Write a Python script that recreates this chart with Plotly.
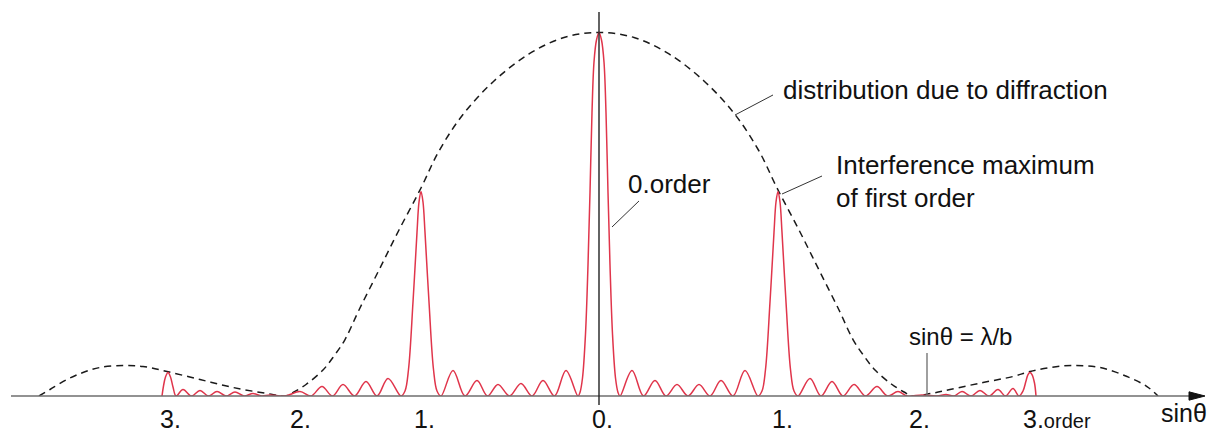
import plotly.graph_objects as go

# sinθ in arbitrary units, intensity in % of the central (0th order) maximum

# single-slit diffraction envelope (dashed)
envelope_x = [-5.60, -5.49, -5.32, -5.16, -4.99, -4.76, -4.56, -4.32, -3.99, -3.66, -3.32, -3.13,
              -3.05, -2.93, -2.76, -2.65, -2.54, -2.40, -2.20, -2.00, -1.78, -1.60, -1.36, -1.05,
              -0.70, -0.35, 0.0,
              0.35, 0.70, 1.05, 1.36, 1.60, 1.78, 2.00, 2.20, 2.40, 2.54, 2.65, 2.76, 2.93, 3.05, 3.13,
              3.32, 3.51, 3.84, 4.14, 4.31, 4.51, 4.74, 5.01, 5.28, 5.48, 5.59]
envelope_y = [0, 1.79, 4.54, 6.46, 7.84, 8.39, 8.12, 6.74, 4.54, 2.34, 0.69, 0,
              1.10, 3.16, 7.15, 11.0, 15.54, 23.66, 34.66, 45.67, 57.22, 67.40, 77.44, 86.66,
              94.09, 98.62, 100,
              98.62, 94.09, 86.66, 77.44, 67.40, 57.22, 45.67, 34.66, 23.66, 15.54, 11.0, 7.15, 3.16, 1.10, 0,
              0.69, 1.79, 3.71, 5.36, 6.74, 7.84, 8.39, 7.84, 5.36, 2.61, 0]

# grating intensity (red): principal maxima with subsidiary maxima in between
pattern_x = [-4.37, -4.355, -4.335, -4.31, -4.285, -4.26, -4.23,
             -4.16, -4.075, -3.99, -3.905, -3.82, -3.73, -3.64, -3.55, -3.46, -3.375, -3.29, -3.14,
             -2.99, -2.88, -2.77, -2.665, -2.56, -2.445, -2.33, -2.22, -2.11,
             -1.98, -1.94, -1.905, -1.86, -1.82, -1.80, -1.78, -1.76, -1.74, -1.70, -1.655, -1.62, -1.58,
             -1.46, -1.34, -1.22, -1.115, -1.01, -0.895, -0.78, -0.67, -0.56, -0.445, -0.33, -0.21,
             -0.19, -0.165, -0.135, -0.11, -0.09, -0.07, -0.05, -0.025, 0.0,
             0.025, 0.05, 0.07, 0.09, 0.11, 0.135, 0.165, 0.19, 0.21,
             0.33, 0.445, 0.56, 0.67, 0.78, 0.89, 1.00, 1.11, 1.22, 1.34, 1.46,
             1.59, 1.63, 1.665, 1.71, 1.75, 1.77, 1.79, 1.81, 1.83, 1.87, 1.915, 1.95, 1.99,
             2.11, 2.22, 2.33, 2.44, 2.55, 2.665, 2.78, 2.885, 2.99, 3.08, 3.23, 3.38, 3.47, 3.55,
             3.63, 3.72, 3.81, 3.90, 3.99, 4.065, 4.14, 4.20,
             4.24, 4.27, 4.29, 4.31, 4.33, 4.355, 4.37]
pattern_y = [0, 2.75, 5.23, 6.46, 5.23, 2.48, 0,
             1.79, 0, 1.51, 0, 1.24, 0, 1.10, 0, 0.69, 0, 0.28, 0,
             1.24, 0, 2.61, 0, 3.16, 0, 3.99, 0, 4.81,
             0, 1.38, 7.29, 25.86, 45.01, 53.37, 56.26, 53.37, 45.01, 25.86, 7.29, 1.38, 0,
             7.02, 0, 4.26, 0, 3.16, 0, 3.44, 0, 4.26, 0, 7.02, 0,
             0.99, 4.95, 17.06, 36.04, 55.98, 77.99, 91.88, 97.94, 100,
             97.94, 91.88, 77.99, 55.98, 36.04, 17.06, 4.95, 0.99, 0,
             7.02, 0, 4.26, 0, 3.16, 0, 3.16, 0, 4.26, 0, 7.02,
             0, 1.38, 7.29, 25.86, 45.01, 53.37, 56.26, 53.37, 45.01, 25.86, 7.29, 1.38, 0,
             4.81, 0, 3.99, 0, 3.16, 0, 2.61, 0, 1.24, 0, 0.28, 0, 0.41, 0,
             1.24, 0, 1.51, 0, 1.79, 0, 2.06, 0,
             1.38, 4.13, 5.91, 6.46, 5.91, 3.58, 0]

# order labels along the sinθ axis
order_labels = ["3.", "2.", "1.", "0.", "1.", "2.", "3."]
order_suffix = ["", "", "", "", "", "", "order"]
order_x = [-4.32, -3.02, -1.78, 0.0, 1.80, 3.17, 4.31]

# first diffraction minimum marker
first_minimum_x = 3.28

FONT = "Liberation Sans, Arial, Helvetica, sans-serif"
INK = "#111111"

fig = go.Figure()

fig.add_trace(go.Scatter(
    x=envelope_x, y=envelope_y, mode="lines",
    line=dict(color="#1a1a1a", width=1.5, dash="7px,5px", shape="spline", smoothing=1.0),
    hoverinfo="skip",
))
fig.add_trace(go.Scatter(
    x=pattern_x, y=pattern_y, mode="lines",
    line=dict(color="#e0354b", width=1.5, shape="spline", smoothing=1.0),
    hoverinfo="skip",
))

shapes = [
    # horizontal sinθ axis
    dict(type="line", xref="x", yref="paper", x0=-5.88, x1=5.95, y0=0, y1=0,
         line=dict(color="#6e6e6e", width=1.6), layer="above"),
    # arrow head
    dict(type="path", xref="x", yref="paper",
         path="M 5.90 0.0105 L 6.06 0 L 5.90 -0.0105 Z",
         fillcolor="#111111", line=dict(color="#111111", width=1), layer="above"),
    # vertical intensity axis
    dict(type="line", xref="x", yref="paper", x0=0, x1=0, y0=-0.0227, y1=0.97,
         line=dict(color="#222222", width=1.4), layer="above"),
    # marker of the first diffraction minimum
    dict(type="line", xref="x", yref="y", x0=first_minimum_x, x1=first_minimum_x, y0=0, y1=11.83,
         line=dict(color="#777777", width=1.4), layer="above"),
    # leader lines
    dict(type="line", xref="x", yref="y", x0=1.36, y0=77.30, x1=1.74, y1=82.81,
         line=dict(color="#333333", width=1), layer="above"),
    dict(type="line", xref="x", yref="y", x0=1.83, y0=55.57, x1=2.23, y1=60.52,
         line=dict(color="#333333", width=1), layer="above"),
    dict(type="line", xref="x", yref="y", x0=0.13, y0=46.49, x1=0.40, y1=53.65,
         line=dict(color="#333333", width=1), layer="above"),
]

annotations = []
for label, suffix, xpos in zip(order_labels, order_suffix, order_x):
    text = label if not suffix else f"{label}<span style='font-size:20px'>{suffix}</span>"
    annotations.append(dict(
        x=xpos, y=-0.0588, xref="x", yref="paper", text=text, showarrow=False,
        xanchor="left", yanchor="middle", xshift=-9,
        font=dict(family=FONT, size=25, color=INK),
    ))

annotations += [
    dict(x=5.85, y=-0.043, xref="x", yref="paper", text="sinθ", showarrow=False,
         xanchor="center", yanchor="middle", font=dict(family=FONT, size=25, color=INK)),
    dict(x=1.82, y=84.3, xref="x", yref="y", text="distribution due to diffraction",
         showarrow=False, xanchor="left", yanchor="middle",
         font=dict(family=FONT, size=26, color=INK)),
    dict(x=2.345, y=63.55, xref="x", yref="y", text="Interference maximum",
         showarrow=False, xanchor="left", yanchor="middle",
         font=dict(family=FONT, size=26, color=INK)),
    dict(x=2.345, y=54.58, xref="x", yref="y", text="of first order",
         showarrow=False, xanchor="left", yanchor="middle",
         font=dict(family=FONT, size=26, color=INK)),
    dict(x=0.27, y=58.3, xref="x", yref="y", text="0.order",
         showarrow=False, xanchor="left", yanchor="middle",
         font=dict(family=FONT, size=26, color=INK)),
    dict(x=3.615, y=16.5, xref="x", yref="y", text="sinθ = λ/b",
         showarrow=False, xanchor="center", yanchor="middle",
         font=dict(family=FONT, size=24, color=INK)),
]

fig.update_layout(
    width=1214, height=438,
    margin=dict(l=0, r=0, t=0, b=42, pad=0),
    paper_bgcolor="white", plot_bgcolor="white",
    showlegend=False,
    xaxis=dict(range=[-5.99, 6.15], visible=False, fixedrange=True),
    yaxis=dict(range=[0, 108.94], visible=False, fixedrange=True),
    shapes=shapes,
    annotations=annotations,
    font=dict(family=FONT, color=INK),
)

fig.write_html("out.html")
